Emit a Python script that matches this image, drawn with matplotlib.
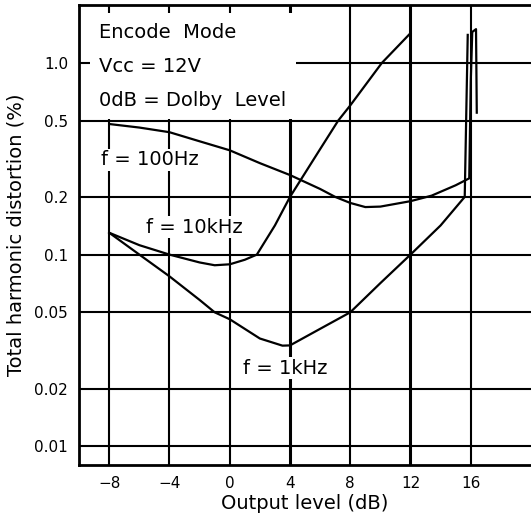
import matplotlib
matplotlib.use("Agg")
import matplotlib.pyplot as plt

plt.rcParams["font.family"] = ["DejaVu Sans"]

# output level (dB) vs total harmonic distortion (%)
level_100hz = [-8, -6, -4, -2, 0, 2, 4, 6, 7, 8, 9, 10, 12, 13.4, 15, 15.9, 16.0, 16.1, 16.35, 16.4]
thd_100hz = [0.48, 0.46, 0.435, 0.39, 0.35, 0.30, 0.26, 0.22, 0.2, 0.186, 0.177, 0.178, 0.19, 0.203, 0.23, 0.25, 0.8, 1.45, 1.5, 0.55]

level_10khz = [-8, -6, -4, -2, -1, 0, 1, 1.8, 3, 4, 6, 7.2, 8, 10.1, 12]
thd_10khz = [0.13, 0.112, 0.1, 0.091, 0.088, 0.089, 0.094, 0.1, 0.142, 0.2, 0.355, 0.5, 0.6, 1.0, 1.43]

level_1khz = [-8, -6, -4, -2, -1, 0, 2, 3.5, 4, 6, 8, 10, 12, 14, 15.6, 15.8]
thd_1khz = [0.13, 0.1, 0.077, 0.058, 0.05, 0.046, 0.0365, 0.0335, 0.0336, 0.041, 0.05, 0.071, 0.1, 0.142, 0.2, 1.4]

x_ticks = [-8, -4, 0, 4, 8, 12, 16]
y_ticks = [0.01, 0.02, 0.05, 0.1, 0.2, 0.5, 1.0]
y_labels = ["0.01", "0.02", "0.05", "0.1", "0.2", "0.5", "1.0"]

fig = plt.figure(figsize=(5.31, 5.20), dpi=100)
ax = fig.add_axes([0.149, 0.106, 0.851, 0.884])
ax.set_yscale("log")
ax.set_xlim(-10, 20)
ax.set_ylim(0.008, 2.0)

for x in x_ticks:
    lw = 2.2 if x in (4, 12) else 1.5
    ax.axvline(x, color="black", lw=lw, zorder=1)
for y in y_ticks:
    ax.axhline(y, color="black", lw=1.5, zorder=1)

for lv, thd in [(level_100hz, thd_100hz), (level_10khz, thd_10khz), (level_1khz, thd_1khz)]:
    ax.plot(lv, thd, color="black", lw=1.6, zorder=3)

ax.set_xticks(x_ticks)
ax.set_xticklabels([str(x).replace("-", "\u2212") for x in x_ticks])
ax.set_yticks(y_ticks)
ax.set_yticklabels(y_labels)
ax.minorticks_off()
ax.tick_params(length=0, labelsize=11, pad=8)

for side in ["left", "top", "bottom"]:
    ax.spines[side].set_linewidth(2)
ax.spines["right"].set_visible(False)

ax.set_xlabel("Output level (dB)", fontsize=14, labelpad=2)
ax.set_ylabel("Total harmonic distortion (%)", fontsize=14, labelpad=6)

white = dict(facecolor="white", edgecolor="none", pad=1)
ax.text(0.045, 0.962, "Encode  Mode\nVcc = 12V\n0dB = Dolby  Level", transform=ax.transAxes,
        fontsize=14, va="top", ha="left", linespacing=2.0, zorder=4,
        bbox=dict(facecolor="white", edgecolor="none", pad=7))
ax.text(-8.55, 0.292, "f = 100Hz", fontsize=14, va="baseline", ha="left", zorder=4, bbox=white)
ax.text(-5.55, 0.130, "f = 10kHz", fontsize=14, va="baseline", ha="left", zorder=4, bbox=white)
ax.text(0.9, 0.0239, "f = 1kHz", fontsize=14, va="baseline", ha="left", zorder=4, bbox=white)

fig.savefig("out.png", dpi=100)
